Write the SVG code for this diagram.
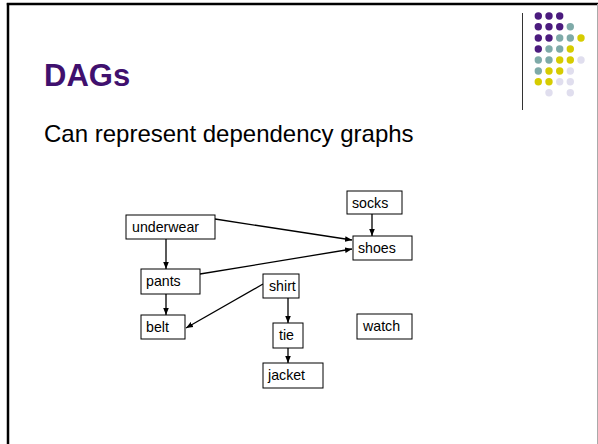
<svg xmlns="http://www.w3.org/2000/svg" width="598" height="444" viewBox="0 0 598 444">
<defs>
<marker id="ah" viewBox="0 0 10 10" refX="10" refY="5" markerWidth="7" markerHeight="7" markerUnits="userSpaceOnUse" orient="auto">
<path d="M0,1 L10,5 L0,9 z" fill="#000"/>
</marker>
</defs>
<style>
.node rect{fill:#fff;stroke:#000;stroke-width:1}
.node text{font-family:"Liberation Sans",Arial,sans-serif;font-size:14.2px;fill:#000}
.edge{stroke:#000;stroke-width:1.3;fill:none;marker-end:url(#ah)}
.p{fill:#4B1B7E}.t{fill:#7EAAA8}.y{fill:#D6CC00}.l{fill:#E0DEEE}
</style>
<rect x="0" y="0" width="598" height="444" fill="#fff"/>
<g id="frame">
<line x1="8" y1="3" x2="8" y2="444" stroke="#000" stroke-width="2.5"/>
<line x1="6.8" y1="4" x2="598" y2="4" stroke="#000" stroke-width="2.5"/>
<line x1="597.5" y1="4" x2="597.5" y2="444" stroke="#aaa" stroke-width="1"/>
<line x1="522.5" y1="13" x2="522.5" y2="110" stroke="#333" stroke-width="1"/>
</g>
<g id="dots">
<circle class="p" cx="538.3" cy="16" r="3.7"/><circle class="p" cx="549" cy="16" r="3.7"/><circle class="p" cx="559.7" cy="16" r="3.7"/>
<circle class="p" cx="538.3" cy="26.7" r="3.7"/><circle class="p" cx="549" cy="26.7" r="3.7"/><circle class="p" cx="559.7" cy="26.7" r="3.7"/><circle class="t" cx="570.3" cy="26.7" r="3.7"/>
<circle class="p" cx="538.3" cy="38" r="3.7"/><circle class="p" cx="549" cy="38" r="3.7"/><circle class="t" cx="559.7" cy="38" r="3.7"/><circle class="t" cx="570.3" cy="38" r="3.7"/><circle class="y" cx="581" cy="38" r="3.7"/>
<circle class="p" cx="538.3" cy="49" r="3.7"/><circle class="t" cx="549" cy="49" r="3.7"/><circle class="t" cx="559.7" cy="49" r="3.7"/><circle class="y" cx="570.3" cy="49" r="3.7"/>
<circle class="t" cx="538.3" cy="60" r="3.7"/><circle class="t" cx="549" cy="60" r="3.7"/><circle class="y" cx="559.7" cy="60" r="3.7"/><circle class="y" cx="570.3" cy="60" r="3.7"/><circle class="l" cx="581" cy="60" r="3.7"/>
<circle class="t" cx="538.3" cy="71" r="3.7"/><circle class="y" cx="549" cy="71" r="3.7"/><circle class="y" cx="559.7" cy="71" r="3.7"/><circle class="l" cx="570.3" cy="71" r="3.7"/>
<circle class="y" cx="538.3" cy="81.7" r="3.7"/><circle class="y" cx="549" cy="81.7" r="3.7"/><circle class="l" cx="559.7" cy="81.7" r="3.7"/><circle class="l" cx="570.3" cy="81.7" r="3.7"/>
<circle class="l" cx="549" cy="92.7" r="3.7"/><circle class="l" cx="570.3" cy="92.7" r="3.7"/>
</g>
<text x="44" y="86" font-family="Liberation Sans,Arial,sans-serif" font-size="31" font-weight="bold" fill="#40106E">DAGs</text>
<text x="44" y="142" font-family="Liberation Sans,Arial,sans-serif" font-size="24" fill="#000">Can represent dependency graphs</text>
<g id="connectors">
<line class="edge" x1="166" y1="239" x2="166" y2="269"/>
<line class="edge" x1="215" y1="219" x2="352" y2="240"/>
<line class="edge" x1="200" y1="274" x2="352" y2="249"/>
<line class="edge" x1="372" y1="214" x2="372" y2="236"/>
<line class="edge" x1="166" y1="294" x2="166" y2="315"/>
<line class="edge" x1="263" y1="284" x2="186" y2="328"/>
<line class="edge" x1="288" y1="298" x2="288" y2="323"/>
<line class="edge" x1="288" y1="348" x2="288" y2="363"/>
</g>
<g id="underwear" class="node"><rect x="126" y="215" width="89" height="24"/><text x="132" y="232">underwear</text></g>
<g id="socks" class="node"><rect x="347" y="191" width="55" height="23"/><text x="352" y="208">socks</text></g>
<g id="shoes" class="node"><rect x="353" y="236" width="59" height="24"/><text x="358" y="253">shoes</text></g>
<g id="pants" class="node"><rect x="141" y="269" width="59" height="25"/><text x="146" y="286">pants</text></g>
<g id="shirt" class="node"><rect x="263" y="274" width="36" height="24"/><text x="269" y="291">shirt</text></g>
<g id="belt" class="node"><rect x="141" y="315" width="44" height="24"/><text x="146" y="332">belt</text></g>
<g id="tie" class="node"><rect x="273" y="323" width="30" height="25"/><text x="279" y="340">tie</text></g>
<g id="watch" class="node"><rect x="357" y="314" width="55" height="25"/><text x="363" y="331">watch</text></g>
<g id="jacket" class="node"><rect x="263" y="363" width="60" height="25"/><text x="268" y="380">jacket</text></g>
</svg>
